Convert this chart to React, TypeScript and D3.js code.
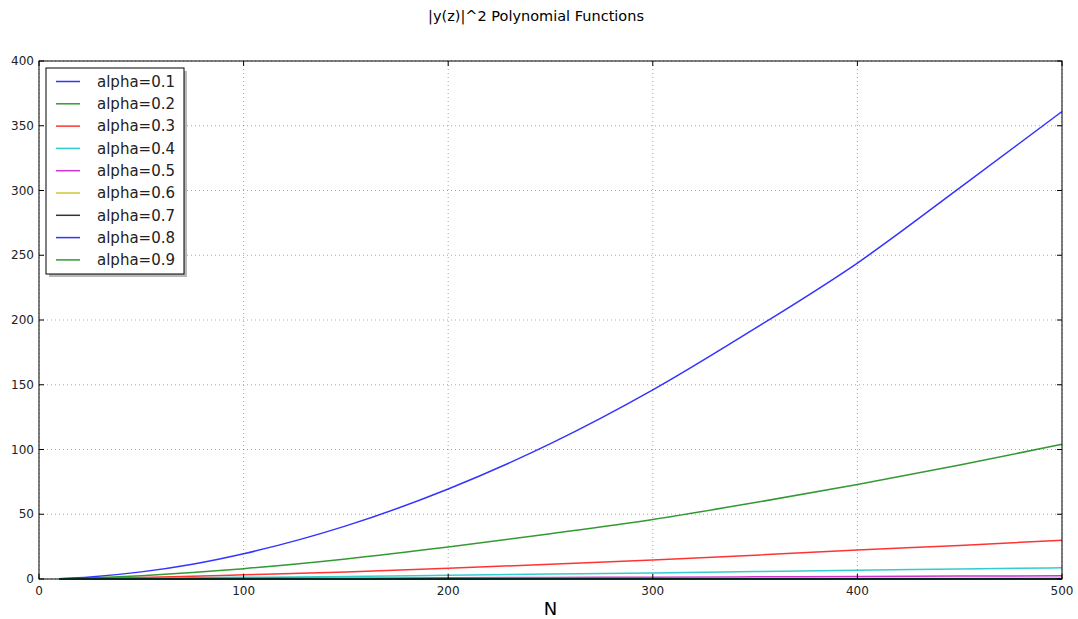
import { scaleLinear, line, curveMonotoneX } from 'd3';

const nValues = [10, 25, 50, 75, 100, 150, 200, 250, 300, 350, 400, 450, 500];

const alpha01 = [0.2, 1.6, 5.5, 11.4, 19.5, 41, 69.5, 104.5, 146, 193.5, 244, 302, 361];
const alpha02 = [0.1, 0.85, 2.6, 5.0, 8.0, 15.5, 24.7, 35, 46, 59, 73, 88, 104];
const alpha03 = [0.1, 0.46, 1.2, 2.1, 3.2, 5.5, 8.3, 11.4, 14.7, 18.4, 22.4, 25.9, 30];
const alpha04 = [0.08, 0.24, 0.55, 0.9, 1.26, 2.0, 2.9, 3.8, 4.7, 5.7, 6.8, 7.7, 8.7];
const alpha05 = [0.04, 0.1, 0.2, 0.31, 0.43, 0.66, 0.92, 1.17, 1.43, 1.69, 1.96, 2.23, 2.5];
const alpha06 = [0.01, 0.03, 0.06, 0.09, 0.13, 0.2, 0.27, 0.34, 0.42, 0.5, 0.57, 0.65, 0.72];
const alpha07 = [0.0, 0.01, 0.02, 0.03, 0.04, 0.06, 0.08, 0.1, 0.12, 0.14, 0.16, 0.18, 0.2];
const alpha08 = [0.0, 0.0, 0.01, 0.01, 0.01, 0.02, 0.02, 0.03, 0.03, 0.04, 0.05, 0.05, 0.06];
const alpha09 = [0.0, 0.0, 0.0, 0.0, 0.0, 0.01, 0.01, 0.01, 0.01, 0.01, 0.01, 0.02, 0.02];

const seriesLabels = ['alpha=0.1', 'alpha=0.2', 'alpha=0.3', 'alpha=0.4', 'alpha=0.5', 'alpha=0.6', 'alpha=0.7', 'alpha=0.8', 'alpha=0.9'];
const seriesValues = [alpha01, alpha02, alpha03, alpha04, alpha05, alpha06, alpha07, alpha08, alpha09];
const seriesColors = ['#0000ff', '#008000', '#ff0000', '#00bfbf', '#bf00bf', '#bfbf00', '#000000', '#0000ff', '#008000'];

const xTicks = [0, 100, 200, 300, 400, 500];
const yTicks = [0, 50, 100, 150, 200, 250, 300, 350, 400];

const App = () => {
    const width = 1078;
    const height = 619;
    const margin = { top: 61, right: 16, bottom: 40, left: 39 };
    const innerWidth = width - margin.left - margin.right;
    const innerHeight = height - margin.top - margin.bottom;
    const font = 'DejaVu Sans, sans-serif';

    const xScale = scaleLinear().domain([0, 500]).range([0, innerWidth]);
    const yScale = scaleLinear().domain([0, 400]).range([innerHeight, 0]);

    const makeLine = (vals: number[]) =>
        line<number>()
            .x((_, i) => xScale(nValues[i]))
            .y(d => yScale(d))
            .curve(curveMonotoneX)(vals) || '';

    const legendX = 46;
    const legendY = 68;
    const legendW = 138;
    const legendH = 206;
    const rowH = 22.3;

    return (
        <svg width={width} height={height} style={{ position: 'absolute', left: 0, top: 0, background: '#fff' }}>
            <text x={536} y={21} textAnchor="middle" fontFamily={font} fontSize={14.5} fill="#000">
                |y(z)|^2 Polynomial Functions
            </text>
            <g transform={`translate(${margin.left},${margin.top})`}>
                {/* grid */}
                {xTicks.map(t => (
                    <line key={'gx' + t} x1={xScale(t)} x2={xScale(t)} y1={0} y2={innerHeight}
                        stroke="#000" strokeOpacity={0.35} strokeWidth={1} strokeDasharray="1,3" />
                ))}
                {yTicks.map(t => (
                    <line key={'gy' + t} x1={0} x2={innerWidth} y1={yScale(t)} y2={yScale(t)}
                        stroke="#000" strokeOpacity={0.35} strokeWidth={1} strokeDasharray="1,3" />
                ))}

                {/* series */}
                {seriesValues.map((vals, i) => (
                    <path key={seriesLabels[i]} d={makeLine(vals)} fill="none"
                        stroke={seriesColors[i]} strokeWidth={1.5} strokeOpacity={0.8} />
                ))}

                {/* frame */}
                <rect x={0} y={0} width={innerWidth} height={innerHeight} fill="none" stroke="#000" strokeWidth={1} />

                {/* ticks, inside on all sides */}
                {xTicks.map(t => (
                    <g key={'tx' + t}>
                        <line x1={xScale(t)} x2={xScale(t)} y1={innerHeight} y2={innerHeight - 5} stroke="#000" />
                        <line x1={xScale(t)} x2={xScale(t)} y1={0} y2={5} stroke="#000" />
                        <text x={xScale(t)} y={innerHeight + 16} textAnchor="middle" fontFamily={font} fontSize={12} fill="#222">{t}</text>
                    </g>
                ))}
                {yTicks.map(t => (
                    <g key={'ty' + t}>
                        <line x1={0} x2={5} y1={yScale(t)} y2={yScale(t)} stroke="#000" />
                        <line x1={innerWidth} x2={innerWidth - 5} y1={yScale(t)} y2={yScale(t)} stroke="#000" />
                        <text x={-5} y={yScale(t)} dy=".35em" textAnchor="end" fontFamily={font} fontSize={12} fill="#222">{t}</text>
                    </g>
                ))}

                <text x={innerWidth / 2} y={innerHeight + 36} textAnchor="middle" fontFamily={font} fontSize={18} fill="#000">N</text>
            </g>

            {/* legend */}
            <rect x={legendX + 3} y={legendY + 3} width={legendW} height={legendH} fill="#888" opacity={0.6} />
            <rect x={legendX} y={legendY} width={legendW} height={legendH} fill="#fff" stroke="#000" strokeWidth={1} />
            {seriesLabels.map((lab, i) => {
                const y = legendY + 13.5 + i * rowH;
                return (
                    <g key={'lg' + lab}>
                        <line x1={legendX + 10} x2={legendX + 34} y1={y} y2={y}
                            stroke={seriesColors[i]} strokeWidth={1.5} strokeOpacity={0.8} />
                        <text x={legendX + 51} y={y} dy=".35em" fontFamily={font} fontSize={15} fill="#222">{lab}</text>
                    </g>
                );
            })}
        </svg>
    );
};

export default App;
